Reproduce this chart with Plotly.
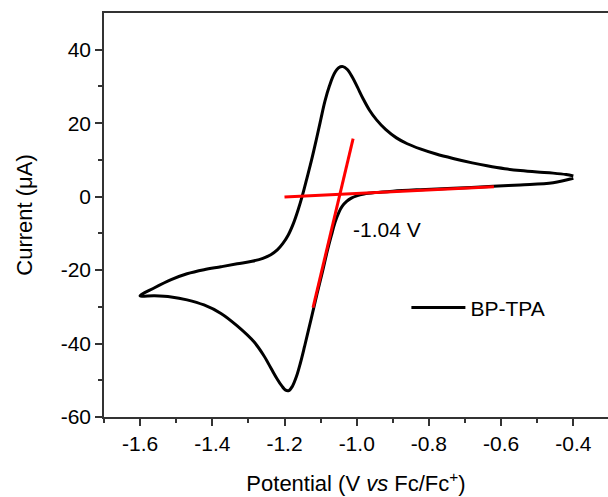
import plotly.graph_objects as go

# CV scan: starts at -0.40 V, cathodic sweep to -1.60 V, then back to -0.40 V
potential = [
    -0.400, -0.456, -0.547, -0.622, -0.733, -0.824, -0.900, -0.950, -0.980, -1.000,
    -1.015, -1.028, -1.040, -1.050, -1.060, -1.070, -1.082, -1.095, -1.110, -1.122,
    -1.134, -1.145, -1.156, -1.167, -1.178, -1.188, -1.197, -1.207, -1.220, -1.237,
    -1.258, -1.284, -1.331, -1.376, -1.423, -1.470, -1.514, -1.560, -1.600,
    -1.560, -1.514, -1.470, -1.423, -1.376, -1.331, -1.290, -1.260, -1.238, -1.220,
    -1.205, -1.190, -1.175, -1.162, -1.150, -1.138, -1.125, -1.112, -1.100, -1.088,
    -1.075, -1.062, -1.050, -1.038, -1.026, -1.012, -0.998, -0.982, -0.965, -0.945,
    -0.920, -0.890, -0.860, -0.824, -0.780, -0.733, -0.680, -0.639, -0.590, -0.547,
    -0.500, -0.456, -0.420, -0.400,
]
current = [
    5.0, 3.8, 3.2, 2.8, 2.3, 1.9, 1.5, 1.1, 0.7, 0.2,
    -0.4, -1.3, -2.6, -4.4, -7.0, -10.5, -15.0, -20.5, -26.5, -31.5,
    -36.5, -41.0, -45.3, -49.0, -51.6, -52.8, -52.7, -51.6, -49.7, -46.8,
    -43.2, -39.6, -35.2, -31.8, -29.5, -28.1, -27.3, -27.0, -27.0,
    -24.8, -22.6, -21.0, -19.9, -19.1, -18.3, -17.6, -16.8, -15.8, -14.5,
    -12.8, -10.5, -7.2, -3.5, 0.5, 5.0, 10.0, 15.5, 20.8, 26.0,
    30.3, 33.5, 35.1, 35.4, 34.6, 32.5, 29.8, 26.6, 23.6, 20.9,
    18.3, 16.0, 14.4, 13.0, 11.6, 10.4, 9.2, 8.4, 7.6, 7.1,
    6.7, 6.4, 6.0, 5.6,
]

# tangent (onset) lines
baseline_x = [-1.20, -0.62]
baseline_y = [-0.1, 2.7]
slope_x = [-1.121, -1.010]
slope_y = [-30.2, 15.8]

onset_label = "-1.04 V"
onset_pos = (-1.015, -9.0)

font_family = "Arial, Liberation Sans, sans-serif"

fig = go.Figure()
fig.add_trace(go.Scatter(
    x=potential, y=current, mode="lines", name="BP-TPA",
    line=dict(color="black", width=3, shape="spline", smoothing=1.0),
))
fig.add_trace(go.Scatter(
    x=baseline_x, y=baseline_y, mode="lines", showlegend=False,
    line=dict(color="#ff0000", width=3),
))
fig.add_trace(go.Scatter(
    x=slope_x, y=slope_y, mode="lines", showlegend=False,
    line=dict(color="#ff0000", width=3),
))

fig.add_annotation(
    x=onset_pos[0], y=onset_pos[1], text=onset_label, showarrow=False,
    xanchor="left", yanchor="middle", font=dict(size=21, color="black", family=font_family),
)

fig.update_layout(
    width=608, height=497,
    margin=dict(l=104, r=0, t=13, b=80),
    paper_bgcolor="white", plot_bgcolor="white",
    font=dict(family=font_family, size=21, color="black"),
    legend=dict(
        x=0.600, y=0.27, xanchor="left", yanchor="middle",
        bgcolor="rgba(0,0,0,0)", font=dict(size=21), itemwidth=54,
    ),
)
fig.update_xaxes(
    range=[-1.7, -0.304], tickvals=[-1.6, -1.4, -1.2, -1.0, -0.8, -0.6, -0.4],
    ticktext=["-1.6", "-1.4", "-1.2", "-1.0", "-0.8", "-0.6", "-0.4"],
    ticks="outside", ticklen=7, tickwidth=1.5, tickcolor="#333",
    minor=dict(tickvals=[-1.7, -1.5, -1.3, -1.1, -0.9, -0.7, -0.5], ticks="outside",
               ticklen=4, tickwidth=1.5, tickcolor="#333"),
    showline=True, linecolor="#333", linewidth=1.5, mirror=True,
    showgrid=False, zeroline=False,
    title=dict(text="Potential (V <i>vs</i> Fc/Fc<sup>+</sup>)", font=dict(size=22), standoff=22),
)
fig.update_yaxes(
    range=[-60, 50], tickvals=[-60, -40, -20, 0, 20, 40],
    ticktext=["-60", "-40", "-20", "0", "20", "40"],
    ticks="outside", ticklen=7, tickwidth=1.5, tickcolor="#333",
    minor=dict(tickvals=[-50, -30, -10, 10, 30], ticks="outside",
               ticklen=4, tickwidth=1.5, tickcolor="#333"),
    showline=True, linecolor="#333", linewidth=1.5, mirror=False,
    showgrid=False, zeroline=False,
    title=dict(text="Current (μA)", font=dict(size=22), standoff=22),
)

fig.write_html("out.html")
